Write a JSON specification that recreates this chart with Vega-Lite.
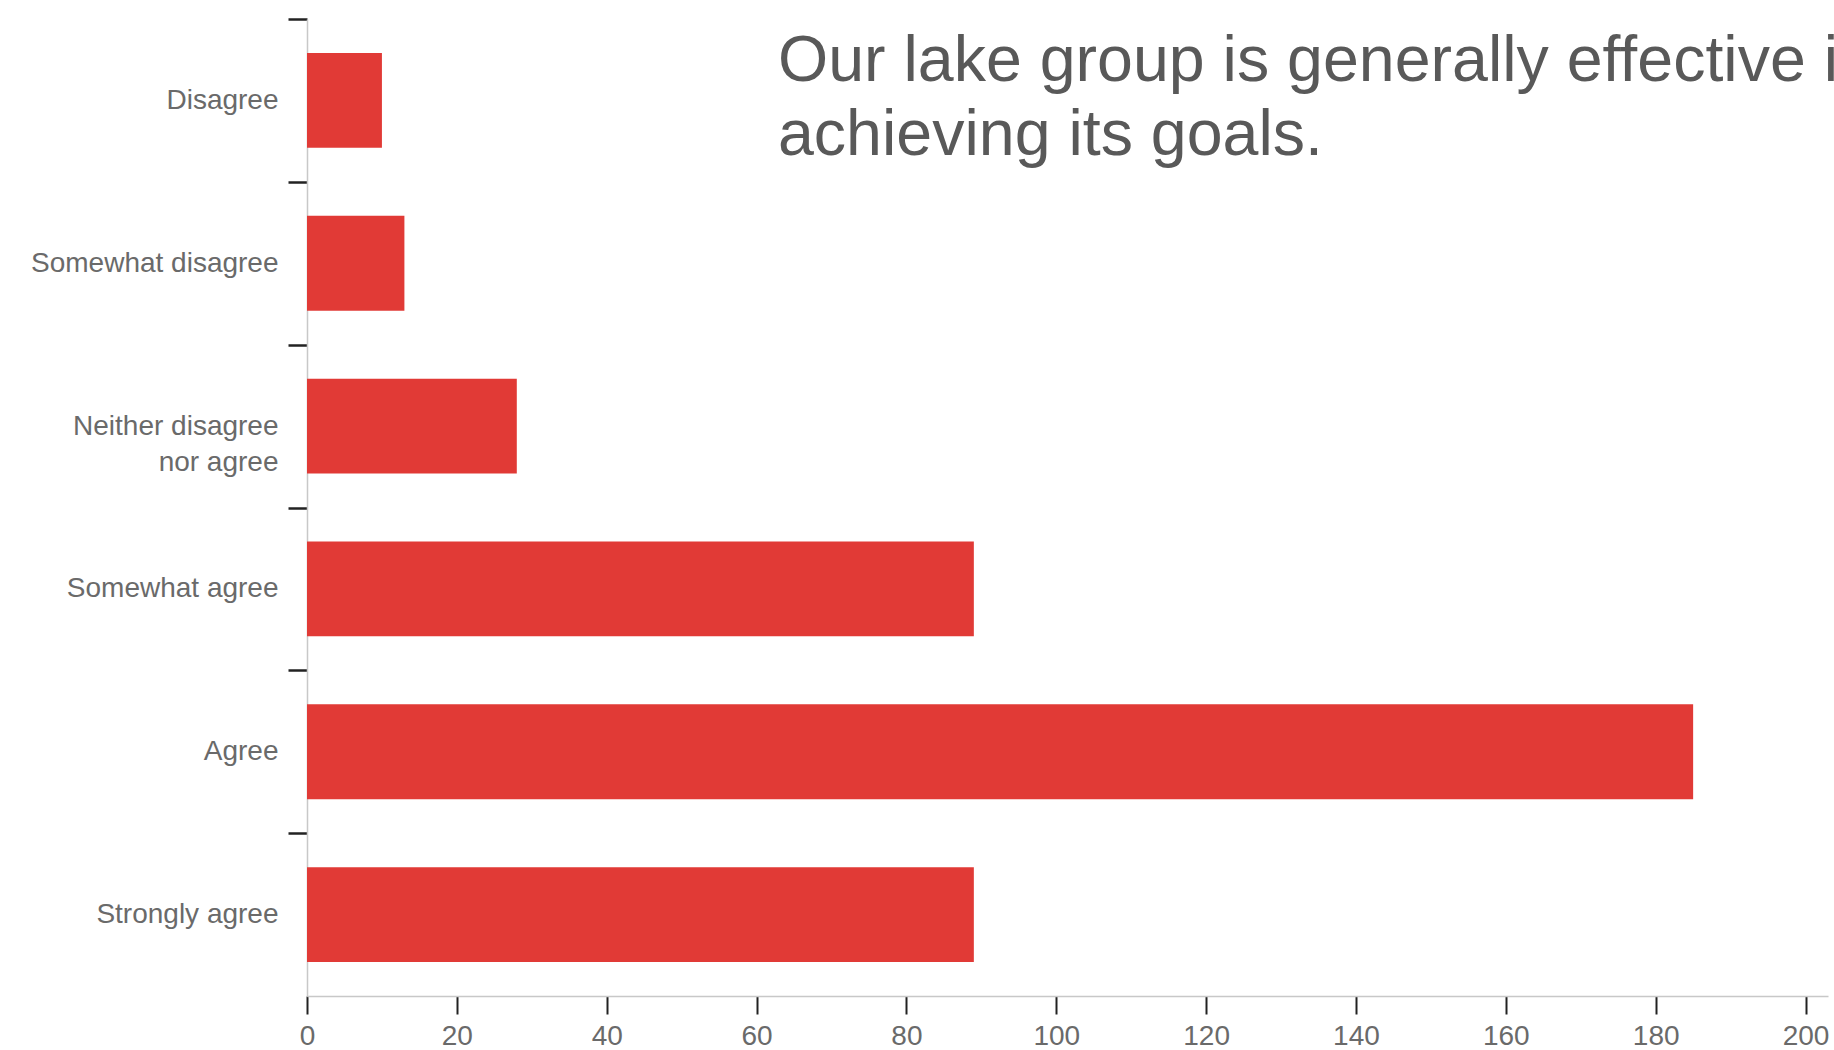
{
  "$schema": "https://vega.github.io/schema/vega-lite/v6.json",
  "autosize": {"type": "none"},
  "width": 1521,
  "height": 977,
  "padding": {"left": 307, "top": 19, "right": 6, "bottom": 54},
  "background": "white",
  "title": {
    "text": ["Our lake group is generally effective in", "achieving its goals."],
    "anchor": "start",
    "frame": "group",
    "orient": "top",
    "offset": 0,
    "font": "Liberation Sans",
    "fontSize": 64.5,
    "fontWeight": "normal",
    "lineHeight": 74,
    "color": "#595959",
    "baseline": "top",
    "dx": 471,
    "dy": 151
  },
  "data": {
    "values": [
      {"response": "Disagree", "count": 10},
      {"response": "Somewhat disagree", "count": 13},
      {"response": "Neither disagree nor agree", "count": 28},
      {"response": "Somewhat agree", "count": 89},
      {"response": "Agree", "count": 185},
      {"response": "Strongly agree", "count": 89}
    ]
  },
  "mark": {"type": "bar", "color": "#e13a36", "height": {"band": 0.582}},
  "encoding": {
    "y": {
      "field": "response",
      "type": "nominal",
      "sort": null,
      "scale": {"paddingInner": 0, "paddingOuter": 0},
      "axis": {
        "title": null,
        "labelFont": "Liberation Sans",
        "labelFontSize": 28,
        "labelColor": "#6a6a6a",
        "labelPadding": 10,
        "labelLimit": 400,
        "labelLineHeight": 36,
        "labelExpr": "datum.value == 'Neither disagree nor agree' ? ['Neither disagree', 'nor agree'] : datum.value",
        "tickSize": 19,
        "tickWidth": 2.5,
        "tickColor": "#222222",
        "tickOffset": -81.4,
        "labelOffset": 81.4,
        "domainColor": "#c8c8c8",
        "domainWidth": 1.5,
        "grid": false
      }
    },
    "x": {
      "field": "count",
      "type": "quantitative",
      "scale": {"domain": [0, 203], "nice": false, "zero": true},
      "axis": {
        "title": null,
        "values": [0, 20, 40, 60, 80, 100, 120, 140, 160, 180, 200],
        "labelFont": "Liberation Sans",
        "labelFontSize": 28,
        "labelColor": "#6a6a6a",
        "labelPadding": 8,
        "labelFlush": false,
        "tickSize": 18,
        "tickWidth": 2,
        "tickColor": "#222222",
        "domainColor": "#c8c8c8",
        "domainWidth": 1.5,
        "grid": false
      }
    }
  },
  "config": {"view": {"stroke": null}}
}
